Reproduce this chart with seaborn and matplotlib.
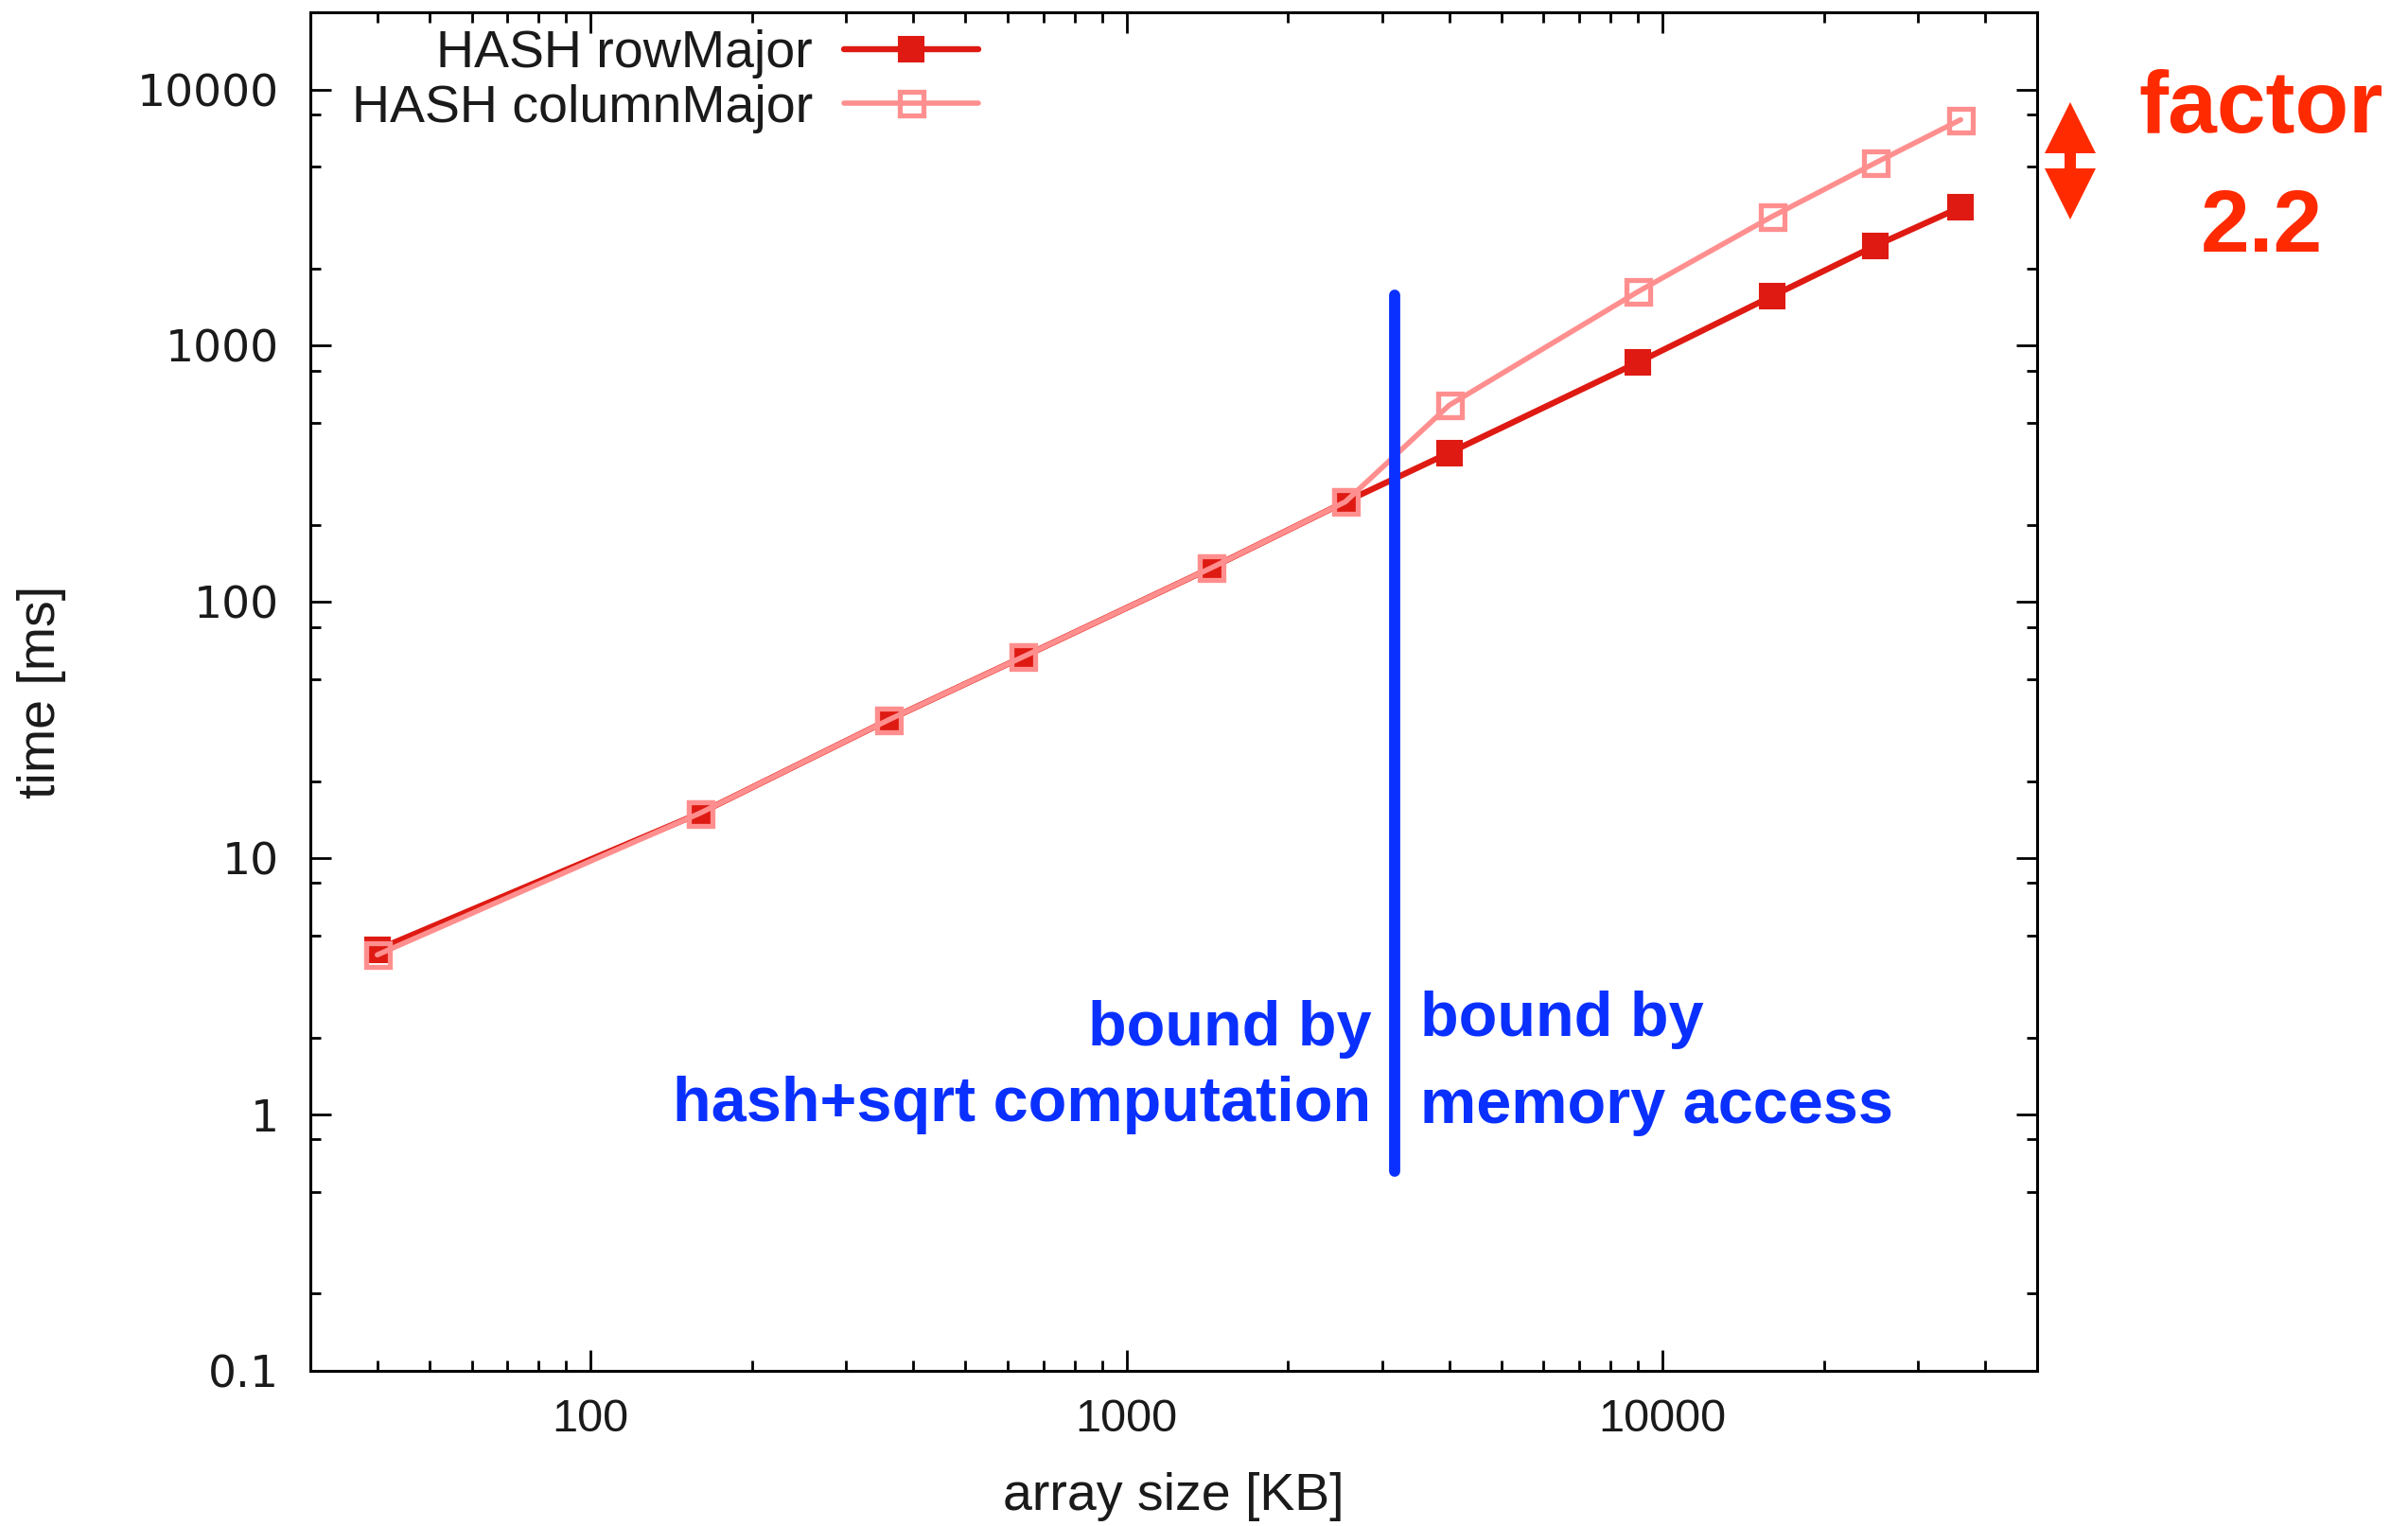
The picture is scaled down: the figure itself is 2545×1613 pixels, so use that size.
import numpy as np
import pandas as pd
import matplotlib
matplotlib.use("Agg")
import matplotlib.pyplot as plt
import seaborn as sns
from matplotlib.ticker import LogLocator, FixedLocator, FixedFormatter, NullFormatter
from matplotlib.patches import Polygon

# ---------------- data ----------------
array_size_kb = [40, 160, 360, 640, 1440, 2560, 4000, 9000, 16000, 25000, 36000]
time_row_major = [4.4, 15, 34.7, 61, 136, 246, 382, 861, 1560, 2460, 3470]
time_column_major = [4.2, 15, 34.7, 61, 136, 246, 586, 1625, 3190, 5180, 7620]
series_names = ["HASH rowMajor", "HASH columnMajor"]
x_ticks = [100, 1000, 10000]
x_tick_labels = ["100", "1000", "10000"]
y_ticks = [0.1, 1, 10, 100, 1000, 10000]
y_tick_labels = ["0.1", "1", "10", "100", "1000", "10000"]
boundary_kb = 3170
left_note = ["bound by", "hash+sqrt computation"]
right_note = ["bound by", "memory access"]
factor_note = ["factor", "2.2"]

# ---------------- style ----------------
sns.set_theme(style="ticks")
plt.rcParams["font.family"] = ["Liberation Sans", "DejaVu Sans"]
NARROW = ["Liberation Sans Narrow", "Liberation Sans", "DejaVu Sans"]

W, H = 2545, 1613
fig = plt.figure(figsize=(W / 100, H / 100), dpi=100)
ax = fig.add_axes([328 / W, 164 / H, 1825 / W, 1436 / H])
ax.set_xscale("log")
ax.set_yscale("log")

row_color = "#DE1A12"
col_color = "#FF8F8F"
blue = "#0A30FF"
red_note = "#FF2A00"

df = pd.DataFrame({
    "size": array_size_kb * 2,
    "time": time_row_major + time_column_major,
    "series": [series_names[0]] * len(array_size_kb) + [series_names[1]] * len(array_size_kb),
})

sns.lineplot(data=df[df["series"] == series_names[0]], x="size", y="time", ax=ax,
             color=row_color, lw=4.6, marker="s", ms=19, mew=1.5,
             mec=row_color, mfc=row_color, label=series_names[0], zorder=3)
sns.lineplot(data=df[df["series"] == series_names[1]], x="size", y="time", ax=ax,
             color=col_color, lw=4.0, marker="s", ms=18, mew=3.8,
             mec=col_color, mfc="none", label=series_names[1], zorder=4)

ax.set_xlim(30, 50000)
ax.set_ylim(0.1, 20000)

ax.xaxis.set_major_locator(FixedLocator(x_ticks))
ax.xaxis.set_major_formatter(FixedFormatter(x_tick_labels))
ax.xaxis.set_minor_locator(LogLocator(base=10, subs=np.arange(2, 10)))
ax.xaxis.set_minor_formatter(NullFormatter())
ax.yaxis.set_major_locator(FixedLocator(y_ticks))
ax.yaxis.set_major_formatter(FixedFormatter(y_tick_labels))
ax.yaxis.set_minor_locator(LogLocator(base=10, subs=[2, 5, 8]))
ax.yaxis.set_minor_formatter(NullFormatter())

ax.tick_params(which="both", direction="in", top=True, right=True, color="black", width=2)
ax.tick_params(which="major", length=16)
ax.tick_params(which="minor", length=8)
ax.tick_params(axis="x", which="major", pad=21, labelsize=35, labelcolor="#1a1a1a",
               labelfontfamily="Liberation Sans")
ax.tick_params(axis="y", which="major", pad=24, labelsize=34, labelcolor="#1a1a1a",
               labelfontfamily="DejaVu Sans")
for s in ax.spines.values():
    s.set_linewidth(2.2)
    s.set_color("black")

ax.set_xlabel("array size [KB]", fontsize=40, family=NARROW, color="#1a1a1a")
ax.set_ylabel("time [ms]", fontsize=40, family=NARROW, color="#1a1a1a")
ax.xaxis.label.set_va("center")
ax.yaxis.label.set_va("center")
ax.xaxis.set_label_coords(0.4997, -(1582 - 1449) / 1436)
ax.yaxis.set_label_coords((44 - 328) / 1825, 0.5)

# legend (text left of sample, right aligned)
h, l = ax.get_legend_handles_labels()
leg = ax.legend(h, l, loc="upper right", bbox_to_anchor=(1034 / W, 1 - 31 / H),
                bbox_transform=fig.transFigure, markerfirst=False, frameon=False,
                prop={"family": NARROW, "size": 40}, handlelength=2.55,
                handletextpad=0.6, borderpad=0, borderaxespad=0, labelspacing=0.1)
for t in leg.get_texts():
    t.set_color("#1a1a1a")

# boundary line
ax.axvline(boundary_kb, ymin=0.147, ymax=0.792, color=blue, lw=8.5, zorder=5)

def fx(px):
    return px / W

def fy(py):
    return 1 - py / H

# blue notes
note_kw = dict(color=blue, fontsize=48, fontweight="bold", family="Liberation Sans", va="baseline")
fig.text(fx(1449), fy(1105), left_note[0], ha="right", **note_kw)
fig.text(fx(1449), fy(1185), left_note[1], ha="right", **note_kw)
fig.text(fx(1501), fy(1095), right_note[0], ha="left", **note_kw)
fig.text(fx(1501), fy(1187), right_note[1], ha="left", **note_kw)

# factor note
fac_kw = dict(color=red_note, fontsize=67, fontweight="bold", family="Liberation Sans",
              va="baseline", ha="center")
fig.text(fx(2390), fy(140), factor_note[0], **fac_kw)
fig.text(fx(2390), fy(266), factor_note[1], **fac_kw)

# double-headed arrow
cx = 2188
up = [(cx, 108), (cx - 27, 162), (cx + 27, 162)]
dn = [(cx, 232), (cx - 27, 178), (cx + 27, 178)]
shaft = [(cx - 6, 160), (cx + 6, 160), (cx + 6, 180), (cx - 6, 180)]
for pts in (up, dn, shaft):
    fig.add_artist(Polygon([(fx(a), fy(b)) for a, b in pts], closed=True,
                           transform=fig.transFigure, color=red_note, lw=0))

fig.savefig("out.png", dpi=100, facecolor="white")
